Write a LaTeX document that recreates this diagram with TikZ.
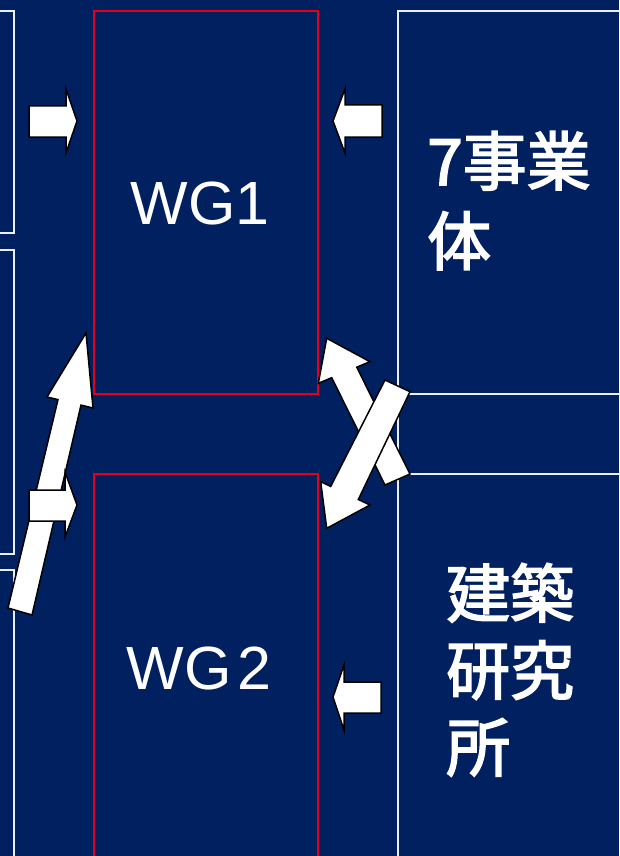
\documentclass[tikz,border=0pt]{standalone}
\usepackage{fontspec}
\setmainfont{Liberation Sans}
\newfontfamily\cjk[FakeBold=2.5]{Noto Sans CJK JP}
\definecolor{navy}{RGB}{0,32,96}
\definecolor{wgred}{RGB}{226,0,26}
\definecolor{boxline}{RGB}{235,238,245}
\begin{document}
\begin{tikzpicture}[x=1pt,y=-1pt,
  orgbox/.style={draw=boxline, line width=1.8pt, inner sep=0pt, anchor=north west},
  wgbox/.style={draw=wgred, line width=2.2pt, inner sep=0pt, anchor=north west},
  wgtext/.style={text=white, inner sep=0pt, anchor=base, font=\fontsize{61}{70}\selectfont},
  jptext/.style={text=white, inner sep=0pt, anchor=north west, align=left},
  blockarrow/.style={draw=black, fill=white, line width=1.5pt, line join=miter}]
\useasboundingbox (0,0) rectangle (619,856);
\clip (0,0) rectangle (619,856);
\fill[navy] (0,0) rectangle (619,856);
% left boxes (cut off)
\node[orgbox, minimum width=33pt, minimum height=222pt] (l1) at (-20,10) {};
\node[orgbox, minimum width=33pt, minimum height=304pt] (l2) at (-20,249) {};
\node[orgbox, minimum width=33pt, minimum height=320pt] (l3) at (-20,569) {};
% working groups
\node[wgbox, minimum width=224pt, minimum height=383pt] (wg1) at (93,10) {};
\node[wgbox, minimum width=224pt, minimum height=420pt] (wg2) at (93,473) {};
% right boxes
\node[orgbox, minimum width=240pt, minimum height=383pt] (r1) at (397,10) {};
\node[orgbox, minimum width=240pt, minimum height=80pt] (r2) at (397,393) {};
\node[orgbox, minimum width=240pt, minimum height=420pt] (r3) at (397,473) {};
% texts
\node[wgtext] (t1) at (200,224) {WG1};
\node[wgtext] (t2) at (199,689) {\spaceskip=0.1em WG 2};
\node[jptext, font=\cjk\fontsize{64}{80}\selectfont] (t3) at (427,131) {7事業\\体};
\node[jptext, font=\cjk\fontsize{64}{77}\selectfont] (t4) at (446,563) {建築\\研究\\所};
% block arrows
\draw[blockarrow] (29,106) -- (66,106) -- (66,89) -- (77,121) -- (66,153) -- (66,137) -- (29,137) -- cycle;
\draw[blockarrow] (382,105) -- (345,105) -- (345,89) -- (333,121) -- (345,153) -- (345,137) -- (382,137) -- cycle;
\draw[blockarrow] (381,682) -- (344,682) -- (344,665) -- (333,697) -- (344,730) -- (344,713) -- (381,713) -- cycle;
\draw[blockarrow] (8,608) -- (58,399.6) -- (47,397) -- (86,333) -- (93,408) -- (81,405.1) -- (32,615) -- cycle;
\draw[blockarrow] (29,490) -- (65,490) -- (65,472) -- (77,505) -- (65,537) -- (65,521) -- (29,521) -- cycle;
\draw[blockarrow] (385,485) -- (331.7,377.7) -- (318.3,383.3) -- (326.7,338.3) -- (370,361.7) -- (356.7,367.2) -- (410,474) -- cycle;
\draw[blockarrow] (385,380) -- (330.7,486.4) -- (320.7,481.7) -- (326.7,528.3) -- (370,505) -- (358.3,499.5) -- (410,391.7) -- cycle;
\end{tikzpicture}
\end{document}
